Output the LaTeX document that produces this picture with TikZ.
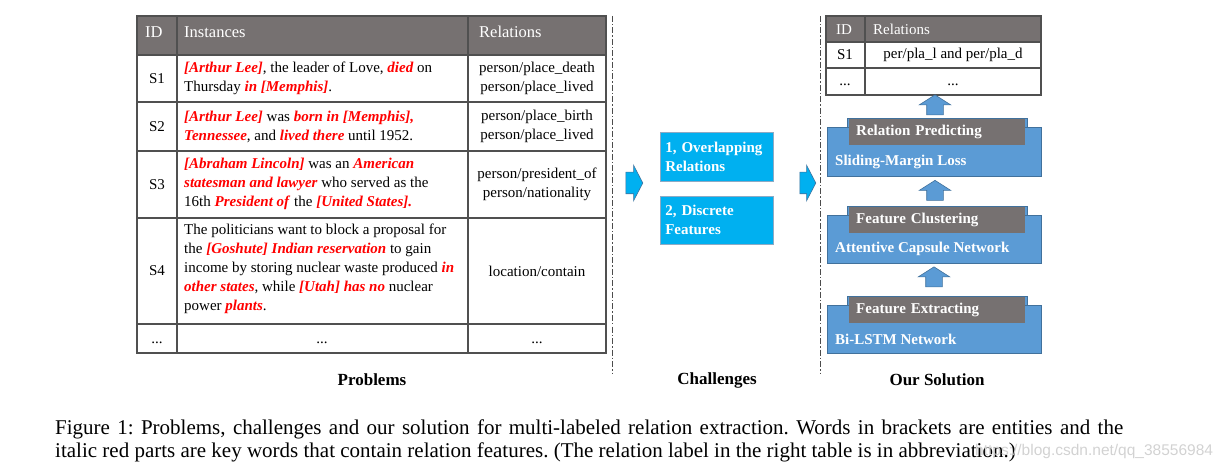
\documentclass[tikz,border=0pt]{standalone}
\usepackage{fontspec}
\setmainfont{Liberation Serif}
\newfontfamily\markfont{Liberation Sans}
\usepackage{xcolor}
\usepackage{tikz}
\usetikzlibrary{shapes.arrows}
\frenchspacing
\definecolor{hdrgray}{RGB}{118,113,113}
\definecolor{gridgray}{RGB}{80,80,80}
\definecolor{cyanblue}{RGB}{0,176,240}
\definecolor{solblue}{RGB}{91,155,213}
\definecolor{edgeblue}{RGB}{65,113,156}
\newcommand{\kw}[1]{\textcolor{red}{\textbf{\textit{#1}}}}
\tikzstyle{body text}=[inner sep=0pt, font=\fontsize{15}{19}\selectfont]
\tikzstyle{head text}=[inner sep=0pt, text=white, font=\fontsize{16.5}{19}\selectfont]
\tikzstyle{table line}=[draw=gridgray, line width=1.3pt]
\tikzstyle{split line}=[draw=black!70, line width=0.9pt, dash pattern=on 6pt off 2pt on 1.5pt off 2pt]
\tikzstyle{challenge box}=[draw=edgeblue!60, fill=cyanblue, line width=0.6pt, text=white, font=\bfseries\fontsize{15}{19}\selectfont, minimum height=49pt, text width=103pt, inner xsep=5pt, inner ysep=0pt, align=left]
\tikzstyle{block arrow}=[single arrow, fill=cyanblue, draw=edgeblue, line width=0.6pt, inner xsep=0pt, inner ysep=10.5pt, minimum width=35pt, minimum height=17pt, single arrow head extend=7pt, single arrow tip angle=125]
\tikzstyle{up arrow}=[block arrow, fill=solblue, rotate=90, inner ysep=8pt, minimum width=31pt, minimum height=20pt, single arrow head extend=7.5pt, single arrow tip angle=115]
\tikzstyle{bump box}=[draw=edgeblue, fill=solblue, line width=0.6pt, minimum width=180pt, minimum height=10pt, inner sep=0pt]
\tikzstyle{solution box}=[draw=edgeblue, fill=solblue, line width=0.6pt, minimum width=214pt, minimum height=48pt, inner sep=0pt]
\tikzstyle{tab box}=[fill=hdrgray, text=white, font=\bfseries\fontsize{15}{19}\selectfont, minimum height=26pt, text width=162pt, inner xsep=7pt, inner ysep=0pt, align=left]
\tikzstyle{solution text}=[inner sep=0pt, text=white, font=\bfseries\fontsize{15}{19}\selectfont]
\tikzstyle{section title}=[inner sep=0pt, font=\bfseries\fontsize{17}{20}\selectfont]
\tikzstyle{caption text}=[inner sep=0pt, font=\fontsize{21}{23}\selectfont]

\begin{document}
\begin{tikzpicture}[x=1pt, y=-1pt]
		\useasboundingbox (0,0) rectangle (1227,465);

		\fill[hdrgray] (137,16) rectangle (606,55);
		\draw[table line] (137,16) rectangle (606,353);
		\draw[table line] (137,55) -- (606,55) (137,102) -- (606,102) (137,151) -- (606,151) (137,218) -- (606,218) (137,324) -- (606,324);
		\draw[table line] (177,16) -- (177,353) (468,16) -- (468,353);

		\node[head text, anchor=west] (0) at (145,32) {ID};
		\node[head text, anchor=west] (1) at (184,32) {Instances};
		\node[head text, anchor=west] (2) at (479,32) {Relations};

		\node[body text] (3) at (157,78.5) {S1};
		\node[body text, anchor=west, align=left] (4) at (184,78.5) {\kw{[Arthur Lee]}, the leader of Love, \kw{died} on\\Thursday \kw{in [Memphis]}.};
		\node[body text, align=center] (5) at (537,78.5) {person/place\_death\\person/place\_lived};

		\node[body text] (6) at (157,126.5) {S2};
		\node[body text, anchor=west, align=left] (7) at (184,126.5) {\kw{[Arthur Lee]} was \kw{born in [Memphis],}\\\kw{Tennessee}, and \kw{lived there} until 1952.};
		\node[body text, align=center] (8) at (537,126.5) {person/place\_birth\\person/place\_lived};

		\node[body text] (9) at (157,184.5) {S3};
		\node[body text, anchor=west, align=left] (10) at (184,184) {\kw{[Abraham Lincoln]} was an \kw{American}\\\kw{statesman and lawyer} who served as the\\16th \kw{President of} the \kw{[United States].}};
		\node[body text, align=center] (11) at (537,184.5) {person/president\_of\\person/nationality};

		\node[body text] (12) at (157,271) {S4};
		\node[body text, anchor=west, align=left] (13) at (184,269) {The politicians want to block a proposal for\\the \kw{[Goshute] Indian reservation} to gain\\income by storing nuclear waste produced \kw{in}\\\kw{other states}, while \kw{[Utah] has no} nuclear\\power \kw{plants}.};
		\node[body text] (14) at (537,271) {location/contain};

		\node[body text] (15) at (157,343) {...};
		\node[body text] (16) at (322,343) {...};
		\node[body text] (17) at (537,343) {...};

		\draw[split line] (612,16) -- (612,374);
		\draw[split line] (820,16) -- (820,373);

		\node[block arrow] (20) at (631.5,183) {};
		\node[block arrow, minimum height=16pt] (21) at (805,183) {};

		\node[challenge box, anchor=north west] (22) at (660,132) {1, Overlapping\\Relations};
		\node[challenge box, anchor=north west, minimum height=48pt] (23) at (660,196) {2, Discrete\\Features};

		\fill[hdrgray] (826,16) rectangle (1041,42);
		\draw[table line] (826,16) rectangle (1041,95);
		\draw[table line] (826,42) -- (1041,42) (826,68) -- (1041,68);
		\draw[table line] (865,16) -- (865,95);

		\node[head text, anchor=west, font=\fontsize{15}{19}\selectfont] (24) at (836,29.5) {ID};
		\node[head text, anchor=west, font=\fontsize{15}{19}\selectfont] (25) at (873,29.5) {Relations};
		\node[body text] (26) at (845,55) {S1};
		\node[body text] (27) at (953,55) {per/pla\_l and per/pla\_d};
		\node[body text] (28) at (845,85) {...};
		\node[body text] (29) at (953,85) {...};

		\node[bump box, anchor=north west] (30) at (847,118) {};
		\node[solution box, anchor=north west, minimum height=49pt] (31) at (827,127) {};
		\node[tab box, anchor=north west] (32) at (849,119) {Relation Predicting};
		\node[solution text, anchor=west] (33) at (835,162) {Sliding-Margin Loss};

		\node[bump box, anchor=north west] (34) at (847,206) {};
		\node[solution box, anchor=north west] (35) at (827,215) {};
		\node[tab box, anchor=north west] (36) at (849,207) {Feature Clustering};
		\node[solution text, anchor=west] (37) at (835,249) {Attentive Capsule Network};

		\node[bump box, anchor=north west] (38) at (847,296) {};
		\node[solution box, anchor=north west] (39) at (827,305) {};
		\node[tab box, anchor=north west] (40) at (849,297) {Feature Extracting};
		\node[solution text, anchor=west] (41) at (835,339) {Bi-LSTM Network};

		\node[up arrow] (42) at (935,107.5) {};
		\node[up arrow] (43) at (935,193) {};
		\node[up arrow] (44) at (934,279.5) {};

		\node[section title] (50) at (372,380) {Problems};
		\node[section title] (51) at (717,380) {Challenges};
		\node[section title] (52) at (937,380) {Our Solution};

		\node[caption text, anchor=west] (60) at (55,429) {\makebox[1068pt][s]{Figure 1: Problems, challenges and our solution for multi-labeled relation extraction. Words in brackets are entities and the}};
		\node[caption text, anchor=west] (61) at (55,452) {italic red parts are key words that contain relation features. (The relation label in the right table is in abbreviation.)};
		\node[anchor=west, inner sep=0pt, text=gray!35, font=\markfont\fontsize{15.5}{18}\selectfont] (62) at (975,451) {https://blog.csdn.net/qq\_38556984};

\end{tikzpicture}
\end{document}
